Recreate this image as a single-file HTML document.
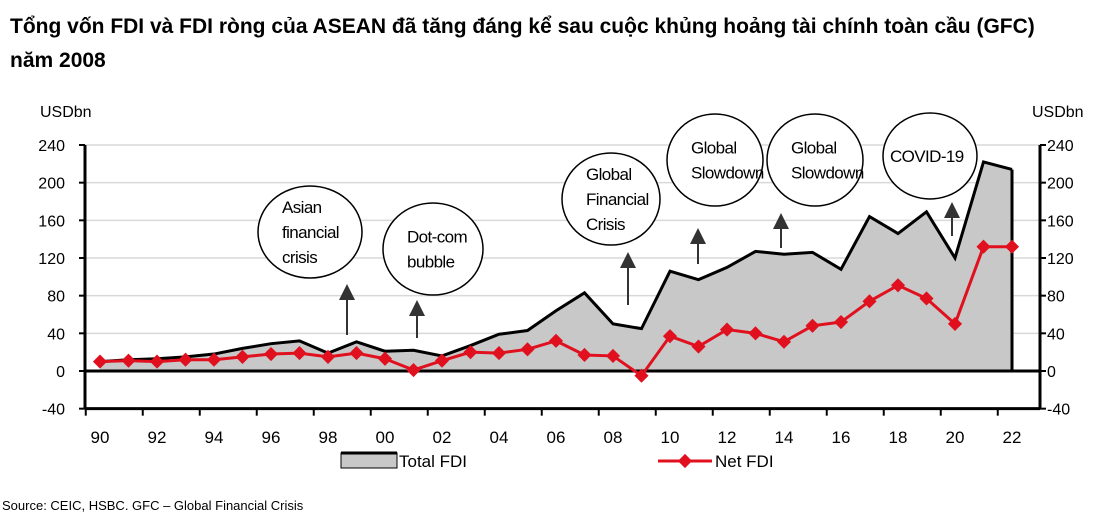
<!DOCTYPE html>
<html><head><meta charset="utf-8"><style>
body{margin:0;width:1104px;height:517px;background:#fff;overflow:hidden;font-family:"Liberation Sans",sans-serif}
.t{position:absolute;left:10px;top:10px;font-weight:bold;font-size:21px;line-height:34px;color:#000;width:1094px;white-space:nowrap}
</style></head><body>
<div class="t">Tổng vốn FDI và FDI ròng của ASEAN đã tăng đáng kể sau cuộc khủng hoảng tài chính toàn cầu (GFC)<br>năm 2008</div>
<svg id="c" width="1104" height="517" style="position:absolute;left:0;top:0"></svg>
<script>
const years=[1990,1991,1992,1993,1994,1995,1996,1997,1998,1999,2000,2001,2002,2003,2004,2005,2006,2007,2008,2009,2010,2011,2012,2013,2014,2015,2016,2017,2018,2019,2020,2021,2022];
const totalFDI=[10,12,13,15,18,24,29,32,19,31,21,22,16,27,39,43,64,83,50,45,106,97,110,127,124,126,108,164,146,169,120,222,214];
const netFDI=[10,11,10,12,12,15,18,19,15,19,13,1,11,20,19,23,32,17,16,-5,37,26,44,40,31,48,52,74,91,77,50,132,132];
const yTicks=[240,200,160,120,80,40,0,-40];
const xLabels=["90","92","94","96","98","00","02","04","06","08","10","12","14","16","18","20","22"];
const NS="http://www.w3.org/2000/svg",svg=document.getElementById('c');
const L=85,R=1040;
const x=i=>100+i*28.5;
const y=v=>371-v*0.9417;
function mk(t,a,p){const e=document.createElementNS(NS,t);for(const k in a)e.setAttribute(k,a[k]);(p||svg).appendChild(e);return e;}
yTicks.forEach(v=>{
 if(v!==0&&v!==-40){const g=mk('line',{x1:L,x2:R,y1:y(v),y2:y(v),stroke:'#d9d9d9','stroke-width':1.5});}
 const a=mk('text',{x:65,y:y(v)+6,'text-anchor':'end','font-size':16});a.textContent=v;
 const b=mk('text',{x:1047,y:y(v)+6,'font-size':16});b.textContent=v;
 mk('line',{x1:L-6,x2:L,y1:y(v),y2:y(v),stroke:'#000','stroke-width':2});
 mk('line',{x1:R,x2:R+6,y1:y(v),y2:y(v),stroke:'#000','stroke-width':2});
});
let u=mk('text',{x:40,y:117,'font-size':16});u.textContent='USDbn';
u=mk('text',{x:1032,y:117,'font-size':16});u.textContent='USDbn';
let d='M'+x(0)+','+y(0);totalFDI.forEach((v,i)=>d+=' L'+x(i)+','+y(v));d+=' L'+x(totalFDI.length-1)+','+y(0)+'Z';
const ar=mk('path',{d:d,fill:'#c8c8c8'});
const tl=mk('polyline',{points:totalFDI.map((v,i)=>x(i)+','+y(v)).join(' '),fill:'none',stroke:'#000','stroke-width':3});

mk('line',{x1:x(32),x2:x(32),y1:y(totalFDI[32]),y2:y(0),stroke:'#000','stroke-width':3});
mk('line',{x1:L,x2:R,y1:y(0),y2:y(0),stroke:'#000','stroke-width':3});
mk('line',{x1:L,x2:L,y1:y(240),y2:y(-40),stroke:'#000','stroke-width':3});
mk('line',{x1:R,x2:R,y1:y(240),y2:y(-40),stroke:'#000','stroke-width':3});
mk('line',{x1:L,x2:R,y1:y(-40),y2:y(-40),stroke:'#000','stroke-width':3});
for(let i=0;i<=33;i+=2){mk('line',{x1:x(i)-14.25,x2:x(i)-14.25,y1:y(-40),y2:y(-40)+7,stroke:'#000','stroke-width':2});}
xLabels.forEach((s,k)=>{const t=mk('text',{x:x(k*2),y:443,'text-anchor':'middle','font-size':17});t.textContent=s;});
const nl=mk('polyline',{points:netFDI.map((v,i)=>x(i)+','+y(v)).join(' '),fill:'none',stroke:'#e0101e','stroke-width':3});

netFDI.forEach((v,i)=>{const p=mk('rect',{x:x(i)-5,y:y(v)-5,width:10,height:10,fill:'#e0101e',transform:`rotate(45 ${x(i)} ${y(v)})`});});
const anns=[[310,232,"Asian|financial|crisis",52,46,347,335,284],[433,249,"Dot-com|bubble",50,46,417,338,300],[611,199,"Global|Financial|Crisis",49,46,628,305,252],[715,160,"Global|Slowdown",48,46,698,264,228],[815,160,"Global|Slowdown",48,46,781,248,213],[930,156,"COVID-19",47,43,952,236,202]];
anns.forEach(a=>{const g=mk('g',{});
 mk('ellipse',{cx:a[0],cy:a[1],rx:a[3],ry:a[4],fill:'#fff',stroke:'#000','stroke-width':1.5},g);
 const ls=a[2].split('|');ls.forEach((s,k)=>{const t=mk('text',{x:a[0]-(ls.length==1?40:a[3]-24),y:a[1]+(k-(ls.length-1)/2)*25+6,'font-size':17,textLength:ls.length==1?80:undefined,'letter-spacing':-0.6},g);if(ls.length==1)t.removeAttribute('textLength');t.textContent=s;});
 mk('line',{x1:a[5],x2:a[5],y1:a[6],y2:a[7]+10,stroke:'#333','stroke-width':2},g);
 mk('polygon',{points:`${a[5]-8},${a[7]+16} ${a[5]+8},${a[7]+16} ${a[5]},${a[7]}`,fill:'#333'},g);
});
let g=mk('g',{});
mk('rect',{x:341,y:453,width:56,height:15,fill:'#c8c8c8',stroke:'#000','stroke-width':1},g);
mk('line',{x1:341,x2:397,y1:453,y2:453,stroke:'#000','stroke-width':3},g);
let t=mk('text',{x:399,y:467,'font-size':17},g);t.textContent='Total FDI';
g=mk('g',{});
mk('line',{x1:658,x2:712,y1:461,y2:461,stroke:'#e0101e','stroke-width':3},g);
mk('rect',{x:680,y:456,width:10,height:10,fill:'#e0101e',transform:'rotate(45 685 461)'},g);
t=mk('text',{x:715,y:467,'font-size':17},g);t.textContent='Net FDI';
t=mk('text',{x:2,y:510,'font-size':13});t.textContent='Source: CEIC, HSBC. GFC – Global Financial Crisis';
</script>
</body></html>
